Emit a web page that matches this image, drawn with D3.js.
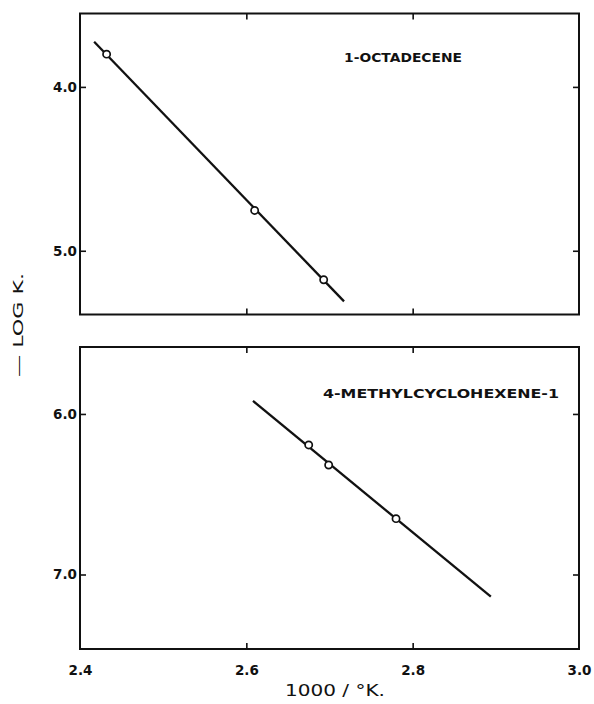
<!DOCTYPE html>
<html>
<head>
<meta charset="utf-8">
<script src="https://cdn.jsdelivr.net/npm/d3@7"></script>
<style>
  html, body { margin: 0; padding: 0; background: #fff; }
  svg { display: block; }
  text { fill: #111; font-family: "DejaVu Sans", sans-serif; }
</style>
</head>
<body>
<svg id="chart" width="594" height="704"></svg>
<script>
// ---- data ----
const xTickValues = [2.4, 2.6, 2.8, 3.0];
const xTickLabels = ["2.4", "2.6", "2.8", "3.0"];
const xInnerTicks = [2.6, 2.8];

const topName = "1-OCTADECENE";
const topTicks = [4.0, 5.0];
const topTickLabels = ["4.0", "5.0"];
const topPointsX = [2.432, 2.610, 2.693];
const topPointsY = [3.80, 4.754, 5.177];
const topLineX = [2.417, 2.7175];
const topLineY = [3.724, 5.309];

const botName = "4-METHYLCYCLOHEXENE-1";
const botTicks = [6.0, 7.0];
const botTickLabels = ["6.0", "7.0"];
const botPointsX = [2.675, 2.699, 2.780];
const botPointsY = [6.193, 6.318, 6.652];
const botLineX = [2.608, 2.894];
const botLineY = [5.919, 7.138];

const xTitle = "1000 / °K.";
const yTitle = "— LOG K.";

// ---- layout ----
const svg = d3.select("#chart");
const left = 80, right = 579;
const x = d3.scaleLinear().domain([2.4, 3.0]).range([left, right]);

const panels = [
  { name: topName, ticks: topTicks, labels: topTickLabels, px: topPointsX, py: topPointsY,
    lx: topLineX, ly: topLineY, top: 13.5, bottom: 314.5, domain: [3.552, 5.389],
    labelX: 344, labelY: 61.5, labelLen: 118, labelSize: 13 },
  { name: botName, ticks: botTicks, labels: botTickLabels, px: botPointsX, py: botPointsY,
    lx: botLineX, ly: botLineY, top: 347, bottom: 649, domain: [5.583, 7.464],
    labelX: 323, labelY: 397.5, labelLen: 236, labelSize: 13 }
];

const ink = "#111";

panels.forEach((p, i) => {
  const y = d3.scaleLinear().domain(p.domain).range([p.top, p.bottom]);
  const g = svg.append("g");

  // frame
  g.append("rect")
    .attr("x", left).attr("y", p.top)
    .attr("width", right - left).attr("height", p.bottom - p.top)
    .attr("fill", "none").attr("stroke", ink).attr("stroke-width", 2);

  // left axis (inward ticks, labels outside)
  const la = g.append("g").attr("transform", `translate(${left},0)`)
    .call(d3.axisLeft(y).tickValues(p.ticks)
      .tickFormat((d, k) => p.labels[k]).tickSizeInner(-6).tickSizeOuter(0).tickPadding(3));
  // right axis (inward ticks)
  const ra = g.append("g").attr("transform", `translate(${right},0)`)
    .call(d3.axisRight(y).tickValues(p.ticks).tickFormat("").tickSizeInner(-6).tickSizeOuter(0));
  // top axis inner ticks
  const ta = g.append("g").attr("transform", `translate(0,${p.top})`)
    .call(d3.axisTop(x).tickValues(xInnerTicks).tickFormat("").tickSizeInner(-6).tickSizeOuter(0));
  // bottom axis inner ticks
  const ba = g.append("g").attr("transform", `translate(0,${p.bottom})`)
    .call(d3.axisBottom(x).tickValues(xInnerTicks).tickFormat("").tickSizeInner(-6).tickSizeOuter(0));

  [la, ra, ta, ba].forEach(a => {
    a.select(".domain").remove();
    a.selectAll(".tick line").attr("stroke", ink).attr("stroke-width", 1.6);
  });
  la.selectAll(".tick text")
    .attr("fill", ink).style("font-family", "DejaVu Sans, sans-serif")
    .style("font-size", "13.5px").style("font-weight", "bold");

  // regression line
  const lineData = p.lx.map((d, k) => [d, p.ly[k]]);
  g.append("path")
    .datum(lineData)
    .attr("d", d3.line().x(d => x(d[0])).y(d => y(d[1])))
    .attr("fill", "none").attr("stroke", ink).attr("stroke-width", 2.3);

  // points
  const pts = p.px.map((d, k) => [d, p.py[k]]);
  g.selectAll("circle.pt").data(pts).join("circle")
    .attr("class", "pt")
    .attr("cx", d => x(d[0])).attr("cy", d => y(d[1]))
    .attr("r", 3.6)
    .attr("fill", "#fff").attr("stroke", ink).attr("stroke-width", 1.7);

  // compound label
  g.append("text")
    .attr("x", p.labelX).attr("y", p.labelY)
    .attr("textLength", p.labelLen).attr("lengthAdjust", "spacingAndGlyphs")
    .style("font-size", p.labelSize + "px").style("font-weight", "bold")
    .text(p.name);

  // x tick labels under bottom panel
  if (i === 1) {
    const xa = g.append("g").attr("transform", `translate(0,${p.bottom})`)
      .call(d3.axisBottom(x).tickValues(xTickValues)
        .tickFormat((d, k) => xTickLabels[k]).tickSize(0).tickPadding(16));
    xa.select(".domain").remove();
    xa.selectAll(".tick text")
      .attr("fill", ink).style("font-family", "DejaVu Sans, sans-serif")
      .style("font-size", "13.5px").style("font-weight", "bold");
  }
});

// axis titles
svg.append("text")
  .attr("x", 285).attr("y", 696)
  .attr("textLength", 100).attr("lengthAdjust", "spacingAndGlyphs")
  .style("font-size", "15px")
  .text(xTitle);

svg.append("text")
  .attr("transform", "translate(23,377) rotate(-90)")
  .attr("x", 0).attr("y", 0)
  .attr("textLength", 104).attr("lengthAdjust", "spacingAndGlyphs")
  .style("font-size", "14px")
  .text(yTitle);
</script>
</body>
</html>
